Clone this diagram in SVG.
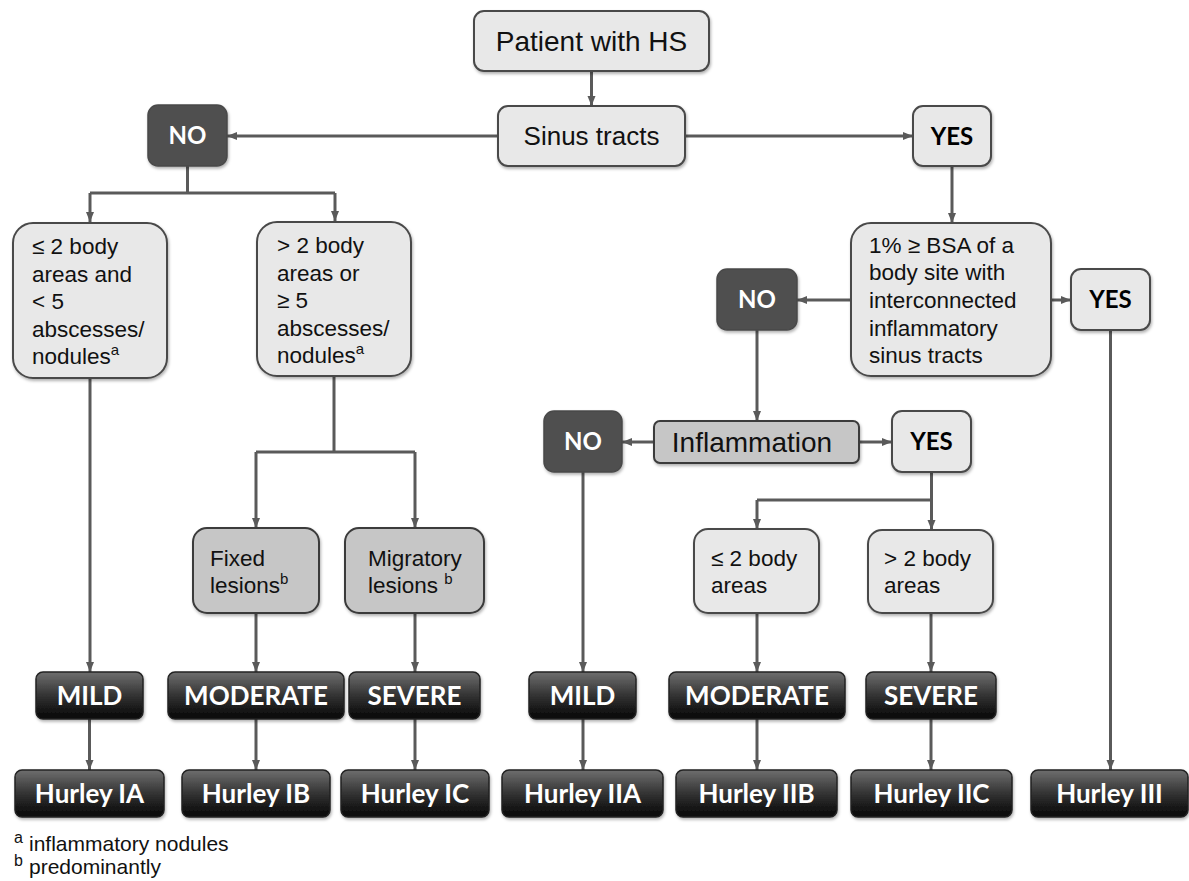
<svg xmlns="http://www.w3.org/2000/svg" width="1189" height="881" viewBox="0 0 1189 881">
<defs>
<linearGradient id="dk" x1="0" y1="0" x2="0" y2="1">
<stop offset="0" stop-color="#6e6e6e"/>
<stop offset="0.55" stop-color="#2e2e2e"/>
<stop offset="1" stop-color="#050505"/>
</linearGradient>
<filter id="sh" x="-10%" y="-10%" width="130%" height="130%">
<feDropShadow dx="1" dy="2" stdDeviation="1.5" flood-color="#000" flood-opacity="0.3"/>
</filter>
<marker id="ah" viewBox="0 0 10 10" refX="10" refY="5" markerWidth="10" markerHeight="10" markerUnits="userSpaceOnUse" orient="auto">
<path d="M0,1 L10,5 L0,9 z" fill="#5a5a5a"/>
</marker>
</defs>
<style>
.lt{fill:#e8e8e8;stroke:#4a4a4a;stroke-width:2;filter:url(#sh)}
.gr{fill:#c6c6c6;stroke:#3a3a3a;stroke-width:2;filter:url(#sh)}
.dn{fill:#4f4f4f;stroke:#4a4a4a;stroke-width:1.5;filter:url(#sh)}
.dg{fill:url(#dk);stroke:#222;stroke-width:1.5;filter:url(#sh)}
.t{font-family:"Liberation Sans",Arial,sans-serif;fill:#111}
.b22{font-size:22.5px}
.bw{font-family:Lato,"Open Sans",sans-serif;font-weight:bold;font-size:26px;fill:#fff;text-anchor:middle}
.bk{font-family:Lato,"Open Sans",sans-serif;font-weight:bold;font-size:24px;fill:#000;text-anchor:middle}
.nw{font-family:Lato,"Open Sans",sans-serif;font-weight:bold;font-size:24px;fill:#fff;text-anchor:middle}
.sup{font-size:15px}
.c{fill:none;stroke:#5a5a5a;stroke-width:3}
.a{marker-end:url(#ah)}
</style>
<rect width="1189" height="881" fill="#fff"/>

<g id="connectors">
<path class="c a" d="M591.5,71 V106"/>
<path class="c a" d="M498,136 H227"/>
<path class="c a" d="M685,136 H913"/>
<path class="c" d="M187.5,166 V193 M90,193 H335"/>
<path class="c a" d="M90,193 V222"/>
<path class="c a" d="M335,193 V221"/>
<path class="c a" d="M952,166 V223"/>
<path class="c a" d="M90,378 V672"/>
<path class="c" d="M334,376 V452 M256,452 H415"/>
<path class="c a" d="M256,452 V528"/>
<path class="c a" d="M415,452 V528"/>
<path class="c a" d="M256,613 V672"/>
<path class="c a" d="M415,613 V672"/>
<path class="c a" d="M89.5,719 V770"/>
<path class="c a" d="M256,719 V770"/>
<path class="c a" d="M415,719 V770"/>
<path class="c a" d="M851,300 H797"/>
<path class="c a" d="M1051,300 H1071"/>
<path class="c a" d="M757,330 V421"/>
<path class="c a" d="M1110.5,330 V770"/>
<path class="c a" d="M654,442 H622"/>
<path class="c a" d="M859,442 H892"/>
<path class="c a" d="M583,472 V672"/>
<path class="c a" d="M583,719 V770"/>
<path class="c" d="M931.5,472 V500 M757,500 H931.5"/>
<path class="c a" d="M757,500 V529"/>
<path class="c a" d="M931.5,500 V530"/>
<path class="c a" d="M757,613 V672"/>
<path class="c a" d="M931,613 V672"/>
<path class="c a" d="M757,719 V770"/>
<path class="c a" d="M931,719 V770"/>
</g>

<g id="patient">
<rect class="lt" x="474" y="11" width="235" height="60" rx="10"/>
<text class="t" x="591.5" y="51" font-size="28" text-anchor="middle">Patient with HS</text>
</g>
<g id="sinus">
<rect class="lt" x="498" y="106" width="187" height="60" rx="10"/>
<text class="t" x="591.5" y="145" font-size="26" text-anchor="middle">Sinus tracts</text>
</g>
<g id="no1">
<rect class="dn" x="148" y="105" width="79" height="61" rx="10"/>
<text class="nw" x="187.5" y="144">NO</text>
</g>
<g id="yes1">
<rect class="lt" x="913" y="106" width="78" height="60" rx="10"/>
<text class="bk" x="952" y="145">YES</text>
</g>
<g id="box1">
<rect class="lt" x="13" y="223" width="154" height="155" rx="20"/>
<text class="t b22" x="32" y="254">≤ 2 body</text>
<text class="t b22" x="32" y="282">areas and</text>
<text class="t b22" x="32" y="309">&lt; 5</text>
<text class="t b22" x="32" y="337">abscesses/</text>
<text class="t b22" x="32" y="364">nodules<tspan class="sup" dy="-9">a</tspan></text>
</g>
<g id="box2">
<rect class="lt" x="257" y="222" width="154" height="154" rx="20"/>
<text class="t b22" x="277" y="253">&gt; 2 body</text>
<text class="t b22" x="277" y="281">areas or</text>
<text class="t b22" x="277" y="308">≥ 5</text>
<text class="t b22" x="277" y="336">abscesses/</text>
<text class="t b22" x="277" y="363">nodules<tspan class="sup" dy="-9">a</tspan></text>
</g>
<g id="fixed">
<rect class="gr" x="193" y="528" width="126" height="85" rx="14"/>
<text class="t b22" x="210" y="566">Fixed</text>
<text class="t b22" x="210" y="593">lesions<tspan class="sup" dy="-9">b</tspan></text>
</g>
<g id="migratory">
<rect class="gr" x="345" y="528" width="139" height="85" rx="14"/>
<text class="t b22" x="368" y="566">Migratory</text>
<text class="t b22" x="368" y="593">lesions <tspan class="sup" dy="-9">b</tspan></text>
</g>
<g id="bsa">
<rect class="lt" x="851" y="223" width="200" height="153" rx="20"/>
<text class="t b22" x="869" y="253">1% ≥ BSA of a</text>
<text class="t b22" x="869" y="280">body site with</text>
<text class="t b22" x="869" y="308">interconnected</text>
<text class="t b22" x="869" y="336">inflammatory</text>
<text class="t b22" x="869" y="363">sinus tracts</text>
</g>
<g id="no2">
<rect class="dn" x="717" y="269" width="80" height="61" rx="10"/>
<text class="nw" x="757" y="308">NO</text>
</g>
<g id="yes2">
<rect class="lt" x="1071" y="269" width="79" height="61" rx="10"/>
<text class="bk" x="1110.5" y="308">YES</text>
</g>
<g id="inflammation">
<rect class="gr" x="654" y="421" width="205" height="42" rx="6"/>
<text class="t" x="752" y="452" font-size="28" text-anchor="middle">Inflammation</text>
</g>
<g id="no3">
<rect class="dn" x="544" y="411" width="78" height="61" rx="10"/>
<text class="nw" x="583" y="450">NO</text>
</g>
<g id="yes3">
<rect class="lt" x="892" y="411" width="79" height="61" rx="10"/>
<text class="bk" x="931.5" y="450">YES</text>
</g>
<g id="le2">
<rect class="lt" x="694" y="529" width="125" height="84" rx="14"/>
<text class="t b22" x="711" y="566">≤ 2 body</text>
<text class="t b22" x="711" y="593">areas</text>
</g>
<g id="gt2">
<rect class="lt" x="868" y="530" width="125" height="83" rx="14"/>
<text class="t b22" x="884" y="566">&gt; 2 body</text>
<text class="t b22" x="884" y="593">areas</text>
</g>

<g id="mild1"><rect class="dg" x="36" y="672" width="107" height="47" rx="7"/><text class="bw" x="89.5" y="705">MILD</text></g>
<g id="moderate1"><rect class="dg" x="168" y="672" width="176" height="47" rx="7"/><text class="bw" x="256" y="705">MODERATE</text></g>
<g id="severe1"><rect class="dg" x="349" y="672" width="131" height="47" rx="7"/><text class="bw" x="414.5" y="705">SEVERE</text></g>
<g id="mild2"><rect class="dg" x="529" y="672" width="107" height="47" rx="7"/><text class="bw" x="582.5" y="705">MILD</text></g>
<g id="moderate2"><rect class="dg" x="669" y="672" width="176" height="47" rx="7"/><text class="bw" x="757" y="705">MODERATE</text></g>
<g id="severe2"><rect class="dg" x="866" y="672" width="130" height="47" rx="7"/><text class="bw" x="931" y="705">SEVERE</text></g>

<g id="hurley-ia"><rect class="dg" x="15" y="770" width="149" height="47" rx="7"/><text class="bw" x="89.5" y="803">Hurley IA</text></g>
<g id="hurley-ib"><rect class="dg" x="182" y="770" width="148" height="47" rx="7"/><text class="bw" x="256" y="803">Hurley IB</text></g>
<g id="hurley-ic"><rect class="dg" x="341" y="770" width="148" height="47" rx="7"/><text class="bw" x="415" y="803">Hurley IC</text></g>
<g id="hurley-iia"><rect class="dg" x="502" y="770" width="161" height="47" rx="7"/><text class="bw" x="582.5" y="803">Hurley IIA</text></g>
<g id="hurley-iib"><rect class="dg" x="676" y="770" width="161" height="47" rx="7"/><text class="bw" x="756.5" y="803">Hurley IIB</text></g>
<g id="hurley-iic"><rect class="dg" x="851" y="770" width="161" height="47" rx="7"/><text class="bw" x="931.5" y="803">Hurley IIC</text></g>
<g id="hurley-iii"><rect class="dg" x="1031" y="770" width="157" height="47" rx="7"/><text class="bw" x="1109.5" y="803">Hurley III</text></g>

<g id="footnotes">
<text class="t" x="14" y="843" font-size="16">a</text>
<text class="t" x="29" y="851" font-size="21">inflammatory nodules</text>
<text class="t" x="14" y="866" font-size="16">b</text>
<text class="t" x="29" y="874" font-size="21">predominantly</text>
</g>
</svg>
